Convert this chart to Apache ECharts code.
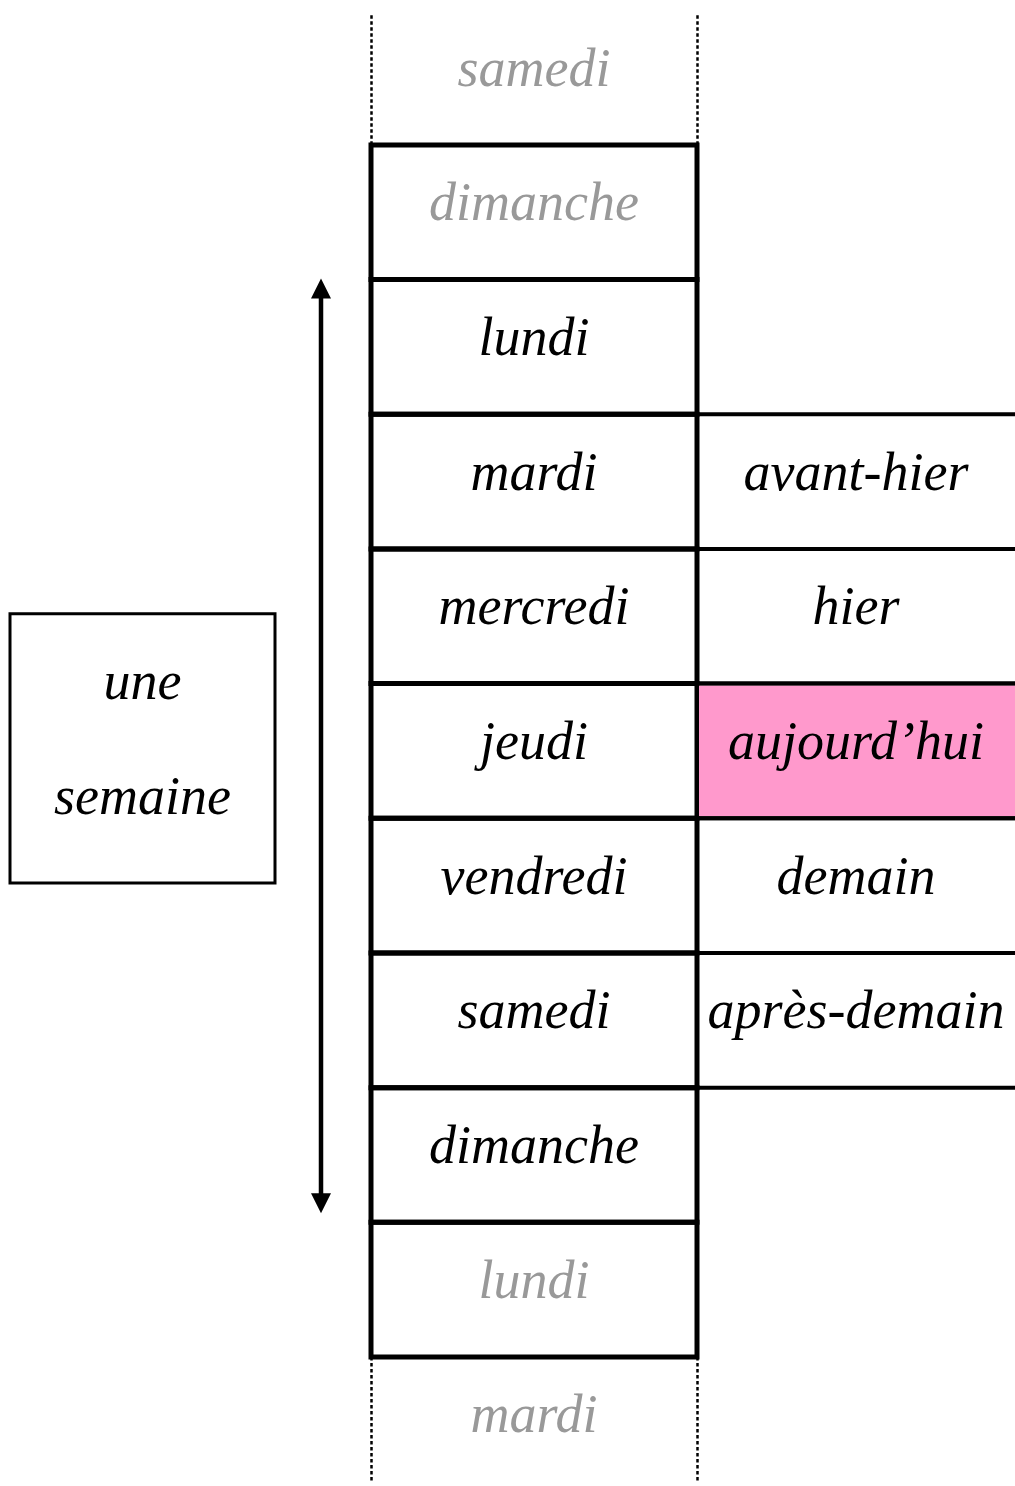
<!DOCTYPE html>
<html>
<head>
<meta charset="utf-8">
<script src="https://cdn.jsdelivr.net/npm/echarts@6/dist/echarts.min.js"></script>
<style>
html,body{margin:0;padding:0;background:#fff;}
#chart{width:1015px;height:1486px;}
</style>
</head>
<body>
<div id="chart"></div>
<script>
// ---- data ----
const days = ['samedi', 'dimanche', 'lundi', 'mardi', 'mercredi', 'jeudi', 'vendredi', 'samedi', 'dimanche', 'lundi', 'mardi'];
const ghostRows = [0, 1, 9, 10];           // rows written in grey
const boxedFirstRow = 1;                   // first framed day
const boxedLastRow = 9;                    // last framed day
const relativeLabels = ['avant-hier', 'hier', "aujourd\u2019hui", 'demain', 'apr\u00e8s-demain'];
const relativeFirstRow = 3;                // row of "avant-hier"
const todayLabel = "aujourd\u2019hui";
const weekFirstRow = 2;                    // lundi
const weekLastRow = 8;                     // dimanche
const periodWords = ['une', 'semaine'];
const periodRow = 5;

// ---- layout / style ----
const W = 1015;
const colDay = [371, 697];
const colRel = [697, 1015];
const boxX = [10, 275];
const arrowX = 321;
const FONT = 'italic 54px "Liberation Serif", serif';
const TEXT_SHIFT = -6;
const ROW_PX = 134.67, FIRST_CENTER_PX = 77.6, H = 1486;
const yMin = -FIRST_CENTER_PX / ROW_PX;
const yMax = yMin + H / ROW_PX;

const chart = echarts.init(document.getElementById('chart'), null, {renderer: 'canvas'});

function rowBox(api, i) {
  const c = api.coord([0, i]);
  const h = Math.abs(api.size([0, 1])[1]);
  return {cy: c[1], top: c[1] - h / 2, bottom: c[1] + h / 2, h: h};
}
function px(api, x, i) { return api.coord([x, i])[0]; }

const option = {
  animation: false,
  backgroundColor: '#ffffff',
  grid: {left: 0, top: 0, right: 0, bottom: 0},
  xAxis: {type: 'value', min: 0, max: W, show: false},
  yAxis: {type: 'value', min: yMin, max: yMax, inverse: true, show: false},
  series: [
    {
      type: 'custom', silent: true,
      data: days.map((d, i) => [0, i]),
      renderItem: function (params, api) {
        const i = api.value(1);
        const r = rowBox(api, i);
        const xl = px(api, colDay[0], i), xr = px(api, colDay[1], i);
        const children = [];
        if (i >= boxedFirstRow && i <= boxedLastRow) {
          children.push({type: 'rect', shape: {x: xl, y: r.top, width: xr - xl, height: r.h},
            style: {fill: 'none', stroke: '#000', lineWidth: 5}});
        } else {
          const y1 = i < boxedFirstRow ? r.top + 5 : r.top;
          const y2 = i < boxedFirstRow ? r.bottom : r.bottom - 10;
          [xl, xr].forEach(function (x) {
            children.push({type: 'line', shape: {x1: Math.round(x) + 0.5, y1: y1, x2: Math.round(x) + 0.5, y2: y2},
              style: {stroke: '#000', lineWidth: 2.5, lineDash: [3.5, 2.5]}});
          });
        }
        children.push({type: 'text', style: {text: days[i], x: (xl + xr) / 2, y: r.cy + TEXT_SHIFT,
          align: 'center', verticalAlign: 'middle', font: FONT,
          fill: ghostRows.indexOf(i) >= 0 ? '#999999' : '#000000'}});
        return {type: 'group', children: children};
      }
    },
    {
      type: 'custom', silent: true,
      data: relativeLabels.map((t, k) => [0, relativeFirstRow + k]),
      renderItem: function (params, api) {
        const i = api.value(1);
        const label = relativeLabels[i - relativeFirstRow];
        const r = rowBox(api, i);
        const xl = px(api, colRel[0], i), xr = px(api, colRel[1], i);
        const children = [];
        if (label === todayLabel) {
          children.push({type: 'rect', shape: {x: xl + 2, y: r.top + 2, width: xr - xl - 2, height: r.h - 4},
            style: {fill: '#ff99cc'}});
        }
        [r.top, r.bottom].forEach(function (y) {
          children.push({type: 'line', shape: {x1: xl, y1: y, x2: xr, y2: y},
            style: {stroke: '#000', lineWidth: 4}});
        });
        children.push({type: 'text', style: {text: label, x: (xl + xr) / 2, y: r.cy + TEXT_SHIFT,
          align: 'center', verticalAlign: 'middle', font: FONT, fill: '#000'}});
        return {type: 'group', children: children};
      }
    },
    {
      type: 'custom', silent: true,
      data: [[0, weekFirstRow, weekLastRow, periodRow]],
      renderItem: function (params, api) {
        const a = rowBox(api, api.value(1));
        const b = rowBox(api, api.value(2));
        const p = rowBox(api, api.value(3));
        const x = px(api, arrowX, 0);
        const y1 = a.top - 1, y2 = b.bottom - 9;
        const hw = 10, hl = 20;
        const bl = px(api, boxX[0], 0), br = px(api, boxX[1], 0);
        const cy = p.cy - 2.5;
        const children = [
          {type: 'line', shape: {x1: x, y1: y1 + hl - 2, x2: x, y2: y2 - hl + 2}, style: {stroke: '#000', lineWidth: 4.5}},
          {type: 'polygon', shape: {points: [[x, y1], [x - hw, y1 + hl], [x + hw, y1 + hl]]}, style: {fill: '#000'}},
          {type: 'polygon', shape: {points: [[x, y2], [x - hw, y2 - hl], [x + hw, y2 - hl]]}, style: {fill: '#000'}},
          {type: 'rect', shape: {x: bl, y: cy - p.h, width: br - bl, height: 2 * p.h},
            style: {fill: 'none', stroke: '#000', lineWidth: 3}},
          {type: 'text', style: {text: periodWords[0], x: (bl + br) / 2, y: cy - 58 + TEXT_SHIFT,
            align: 'center', verticalAlign: 'middle', font: FONT, fill: '#000'}},
          {type: 'text', style: {text: periodWords[1], x: (bl + br) / 2, y: cy + 57 + TEXT_SHIFT,
            align: 'center', verticalAlign: 'middle', font: FONT, fill: '#000'}}
        ];
        return {type: 'group', children: children};
      }
    }
  ]
};
chart.setOption(option);
</script>
</body>
</html>
